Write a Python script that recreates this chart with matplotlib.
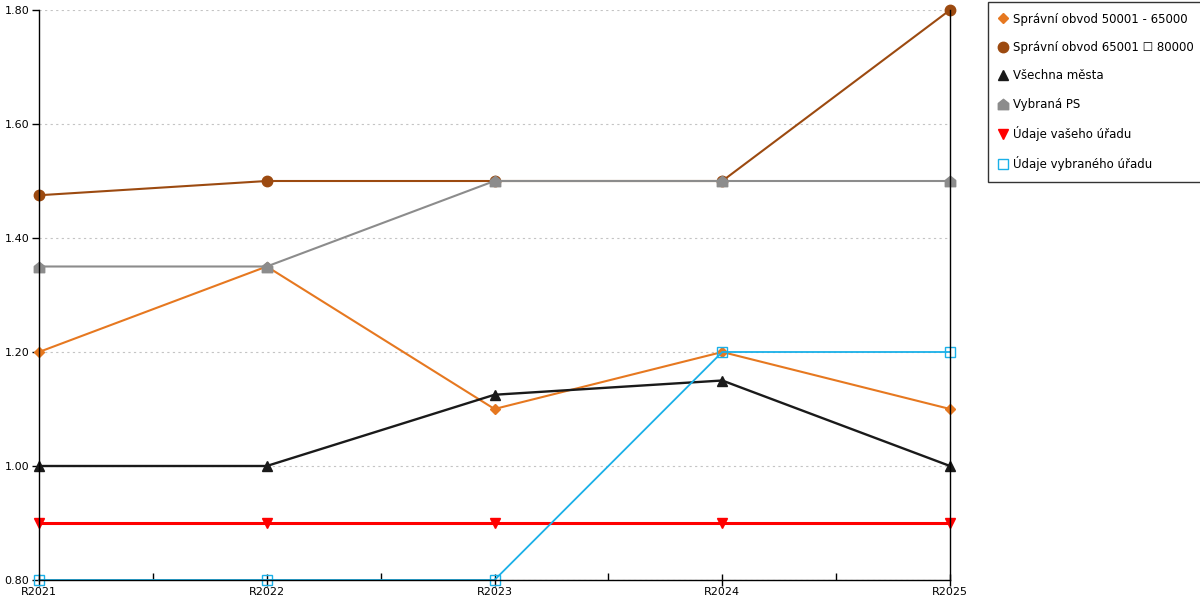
import numpy as np
import matplotlib
matplotlib.use("Agg")
import matplotlib.pyplot as plt
from matplotlib.path import Path
from matplotlib.ticker import FixedLocator

plt.rcParams['font.family'] = ['DejaVu Sans']

years = ["R2021", "R2022", "R2023", "R2024", "R2025"]
obvod_50_65 = [1.20, 1.35, 1.10, 1.20, 1.10]
obvod_65_80 = [1.475, 1.50, 1.50, 1.50, 1.80]
vsechna_mesta = [1.00, 1.00, 1.125, 1.15, 1.00]
vybrana_ps = [1.35, 1.35, 1.50, 1.50, 1.50]
vas_urad = [0.90, 0.90, 0.90, 0.90, 0.90]
vybrany_urad = [0.80, 0.80, 0.80, 1.20, 1.20]

# domecek pro "Vybraná PS"
house = Path([(-1, -1), (1, -1), (1, 0.2), (0, 1), (-1, 0.2), (-1, -1)],
             [Path.MOVETO, Path.LINETO, Path.LINETO, Path.LINETO, Path.LINETO, Path.CLOSEPOLY])

series = [
    ("Správní obvod 50001 - 65000", obvod_50_65, dict(color="#e67820", marker="D", ms=5.5, lw=1.5)),
    ("Správní obvod 65001 \u2610 80000", obvod_65_80, dict(color="#9c4a10", marker="o", ms=7.5, lw=1.5)),
    ("Všechna města", vsechna_mesta, dict(color="#1a1a1a", marker="^", ms=7, lw=1.7)),
    ("Vybraná PS", vybrana_ps, dict(color="#8c8c8c", marker=house, ms=7.5, lw=1.5)),
    ("Údaje vašeho úřadu", vas_urad, dict(color="#ff0000", marker="v", ms=7, lw=2.2)),
    ("Údaje vybraného úřadu", vybrany_urad, dict(color="#1ab0e8", marker="s", ms=7, lw=1.3,
                                                 mfc="none", mew=1.0)),
]

fig = plt.figure(figsize=(12, 6), dpi=100)
ax = fig.add_axes([39 / 1200, 20 / 600, 911 / 1200, 570 / 600])
x = np.arange(len(years))

for label, vals, st in series:
    ax.plot(x, vals, label=label, clip_on=False, **st)

ax.set_xlim(0, len(years) - 1)
ax.set_ylim(0.8, 1.8)
ax.set_xticks(x)
ax.set_xticklabels(years)
ax.xaxis.set_minor_locator(FixedLocator(x[:-1] + 0.5))
ax.set_yticks(np.arange(0.8, 1.81, 0.2))
ax.set_yticklabels([f"{v:.2f}" for v in np.arange(0.8, 1.81, 0.2)])

ax.tick_params(axis="x", which="major", direction="inout", length=8, width=1, labelsize=8, pad=1)
ax.tick_params(axis="x", which="minor", direction="in", length=5, width=1)
ax.tick_params(axis="y", direction="out", length=5, width=1, labelsize=8, pad=2)

ax.grid(axis="y", color="#c4c4c4", linestyle=(0, (2, 3)), linewidth=0.8)
ax.set_axisbelow(True)
ax.spines["top"].set_visible(False)
for s in ("left", "right", "bottom"):
    ax.spines[s].set_linewidth(1)
    ax.spines[s].set_color("black")

leg = fig.legend(loc="upper left", bbox_to_anchor=(988 / 1200, 1 - 2 / 600), fontsize=8.5,
                 frameon=True, fancybox=False, edgecolor="black", handlelength=0.8,
                 handletextpad=0.4, labelspacing=1.3, borderpad=0.9, borderaxespad=0,
                 markerscale=1.0)
for h in leg.legend_handles:
    h.set_linestyle("none")
leg.get_frame().set_linewidth(1)

fig.savefig("out.png", dpi=100)
